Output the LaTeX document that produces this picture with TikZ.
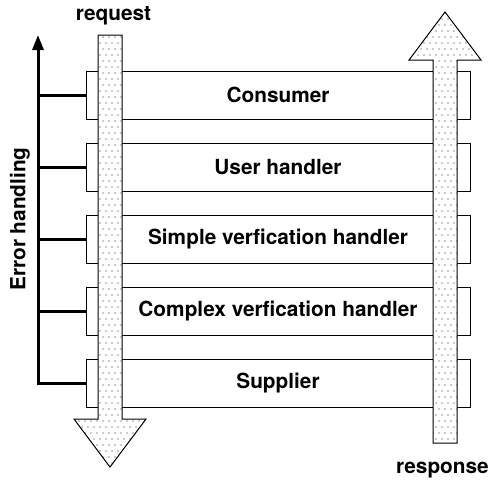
\documentclass[tikz,border=0pt]{standalone}
\usepackage{fontspec}
\setmainfont{TeX Gyre Heros}
\usetikzlibrary{patterns,arrows.meta}
\pgfdeclarepatternformonly{sdots}{\pgfpoint{-1pt}{-1pt}}{\pgfpoint{7pt}{13pt}}{\pgfpoint{6pt}{12pt}}{%
  \pgfpathcircle{\pgfpoint{1pt}{1pt}}{0.7pt}%
  \pgfpathcircle{\pgfpoint{4pt}{7pt}}{0.7pt}%
  \pgfusepath{fill}}
\tikzset{
  layer/.style={draw, line width=1pt, fill=white, minimum width=384pt, minimum height=48pt,
    inner sep=0pt, font=\fontsize{20.8}{25}\selectfont\bfseries},
  lbl/.style={inner sep=0pt, font=\fontsize{20.8}{25}\selectfont\bfseries},
  flow/.style={draw, line width=1pt, pattern=sdots, pattern color=black!85},
  err/.style={line width=3pt},
}
\begin{document}
\begin{tikzpicture}[x=1pt,y=-1pt]
\useasboundingbox (0,0) rectangle (490,482);
\node[layer] (consumer) at (278,95) {Consumer};
\node[layer] (user) at (278,167) {User handler};
\node[layer] (simple) at (278,239) {Simple verfication handler};
\node[layer] (complex) at (278,311) {Complex verfication handler};
\node[layer] (supplier) at (278,383) {Supplier};
% request arrow
\fill[white] (98,35) -- (122,35) -- (122,419) -- (146,419) -- (110,467) -- (74,419) -- (98,419) -- cycle;
\path[flow] (98,35) -- (122,35) -- (122,419) -- (146,419) -- (110,467) -- (74,419) -- (98,419) -- cycle;
% response arrow
\fill[white] (433,443) -- (457,443) -- (457,60) -- (481,60) -- (445,12) -- (409,60) -- (433,60) -- cycle;
\path[flow] (433,443) -- (457,443) -- (457,60) -- (481,60) -- (445,12) -- (409,60) -- (433,60) -- cycle;
\node[lbl] (req) at (113.5,16) {request};
\node[lbl] (resp) at (442.5,470) {response};
\node[lbl, rotate=90] (eh) at (20,219) {Error handling};
% error handling
\coordinate (etop) at (38,35);
\draw[err, -{Triangle[length=15pt,width=11pt]}] (supplier.west) -| (etop);
\foreach \n in {consumer,user,simple,complex}
  \draw[err] (\n.west) -- (\n.west -| etop);
\end{tikzpicture}
\end{document}
